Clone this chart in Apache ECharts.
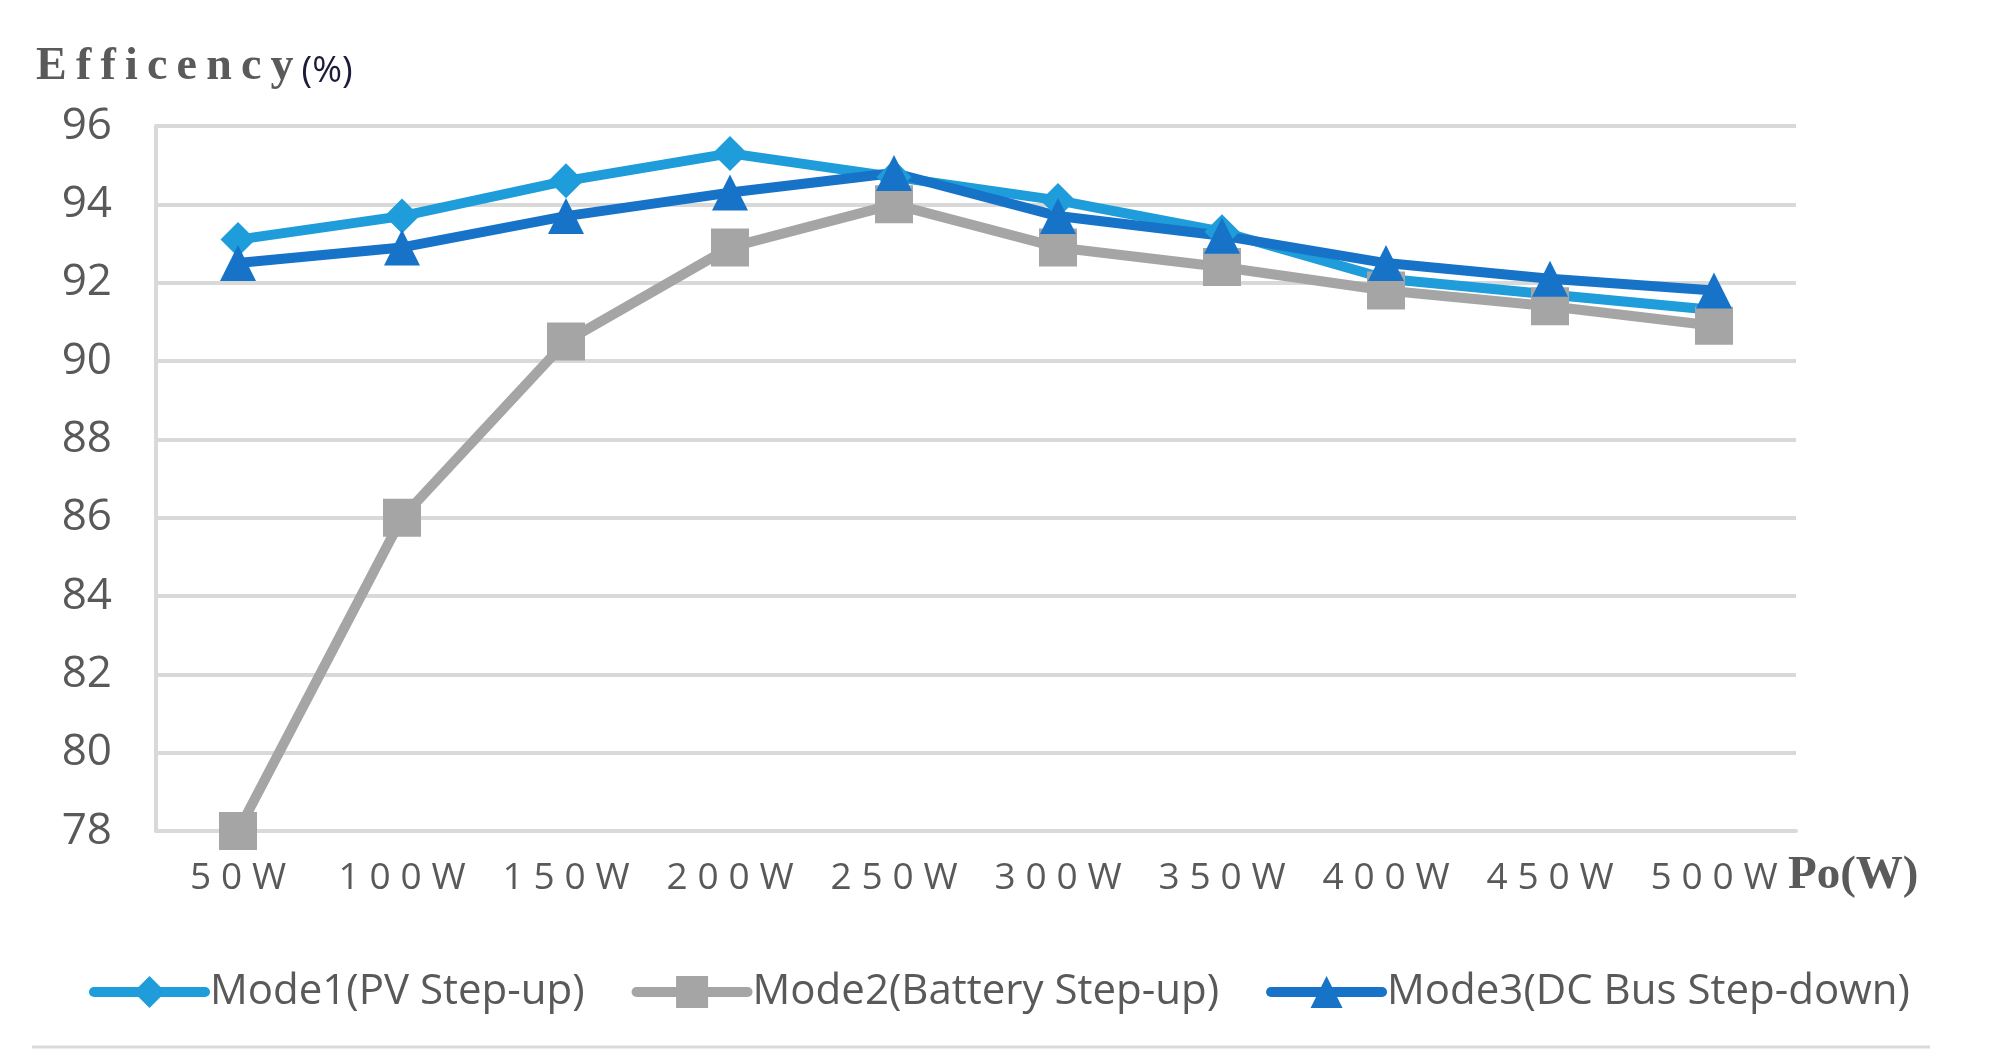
<!DOCTYPE html>
<html>
<head>
<meta charset="utf-8">
<script src="https://cdn.jsdelivr.net/npm/echarts@6/dist/echarts.min.js"></script>
<style>
html,body{margin:0;padding:0;background:#fff;}
#chart{width:1994px;height:1062px;}
</style>
</head>
<body>
<div id="chart"></div>
<script>
// ---- data ----
const categories = ['50W','100W','150W','200W','250W','300W','350W','400W','450W','500W'];
const mode1 = [93.1, 93.7, 94.6, 95.3, 94.7, 94.1, 93.3, 92.1, 91.7, 91.3];
const mode2 = [78.0, 86.0, 90.5, 92.9, 94.0, 92.9, 92.4, 91.8, 91.4, 90.9];
const mode3 = [92.5, 92.9, 93.7, 94.3, 94.8, 93.7, 93.2, 92.5, 92.1, 91.8];
const seriesNames = ['Mode1(PV Step-up)', 'Mode2(Battery Step-up)', 'Mode3(DC Bus Step-down)'];
const yTitle = 'Efficency';
const yUnit = '(%)';
const xTitle = 'Po(W)';
const yMin = 78, yMax = 96, yStep = 2;

const spaced = (s, sep) => s.split('').join(sep);

const chart = echarts.init(document.getElementById('chart'));
const gray = '#595959';
const gridColor = '#D9D9D9';

chart.setOption({
  animation: false,
  backgroundColor: '#fff',
  title: [{
    left: 36,
    top: 40,
    padding: 0,
    text: '{a|' + spaced(yTitle, '\u2009') + '}{b|' + yUnit + '}',
    textStyle: {
      rich: {
        a: { fontFamily: 'Liberation Serif', fontWeight: 'bold', fontSize: 46, color: '#5a5a5a', lineHeight: 50, verticalAlign: 'bottom' },
        b: { fontFamily: 'Open Sans', fontWeight: 'normal', fontSize: 36, color: '#1b1b3a', lineHeight: 50, verticalAlign: 'bottom', padding: [0, 0, 0, 8] }
      }
    }
  }, {
    left: 1788,
    top: 852,
    padding: 0,
    text: xTitle,
    textStyle: { fontFamily: 'Liberation Serif', fontWeight: 'bold', fontSize: 47, lineHeight: 47, color: '#5a5a5a' }
  }],
  grid: { left: 156, right: 198, top: 126, bottom: 231, containLabel: false },
  legend: {
    data: seriesNames,
    left: 84,
    top: 966,
    itemWidth: 111,
    itemHeight: 40,
    itemGap: 47,
    lineStyle: { width: 10, cap: 'round' },
    textStyle: { fontFamily: 'Open Sans', fontSize: 42, color: gray }
  },
  xAxis: {
    type: 'category',
    data: categories,
    boundaryGap: true,
    axisLine: { show: true, lineStyle: { color: gridColor, width: 4 } },
    axisTick: { show: false },
    axisLabel: {
      interval: 0,
      hideOverlap: false,
      margin: 29,
      fontFamily: 'Open Sans',
      fontSize: 37,
      color: gray,
      formatter: v => spaced(v, '\u2009\u200A')
    }
  },
  yAxis: {
    type: 'value',
    min: yMin,
    max: yMax,
    interval: yStep,
    axisLine: { show: true, lineStyle: { color: gridColor, width: 4 } },
    axisTick: { show: false },
    splitLine: { show: true, lineStyle: { color: gridColor, width: 4 } },
    axisLabel: {
      margin: 44,
      fontFamily: 'Open Sans',
      fontSize: 44,
      color: gray
    }
  },
  series: [
    {
      name: seriesNames[0],
      type: 'line',
      data: mode1,
      symbol: 'diamond',
      symbolSize: [35, 35],
      color: '#1E9DDA',
      lineStyle: { width: 10, color: '#1E9DDA', cap: 'round', join: 'round' },
      itemStyle: { color: '#1E9DDA' }
    },
    {
      name: seriesNames[1],
      type: 'line',
      data: mode2,
      symbol: 'rect',
      symbolSize: 38,
      color: '#A5A5A5',
      lineStyle: { width: 10, color: '#A5A5A5', cap: 'round', join: 'round' },
      itemStyle: { color: '#A5A5A5' }
    },
    {
      name: seriesNames[2],
      type: 'line',
      data: mode3,
      symbol: 'triangle',
      symbolSize: [36, 36],
      color: '#1773C8',
      lineStyle: { width: 10, color: '#1773C8', cap: 'round', join: 'round' },
      itemStyle: { color: '#1773C8' }
    }
  ],
  graphic: [{
    type: 'line',
    shape: { x1: 32, y1: 1047, x2: 1930, y2: 1047 },
    style: { stroke: gridColor, lineWidth: 3 },
    silent: true
  }]
});
</script>
</body>
</html>
